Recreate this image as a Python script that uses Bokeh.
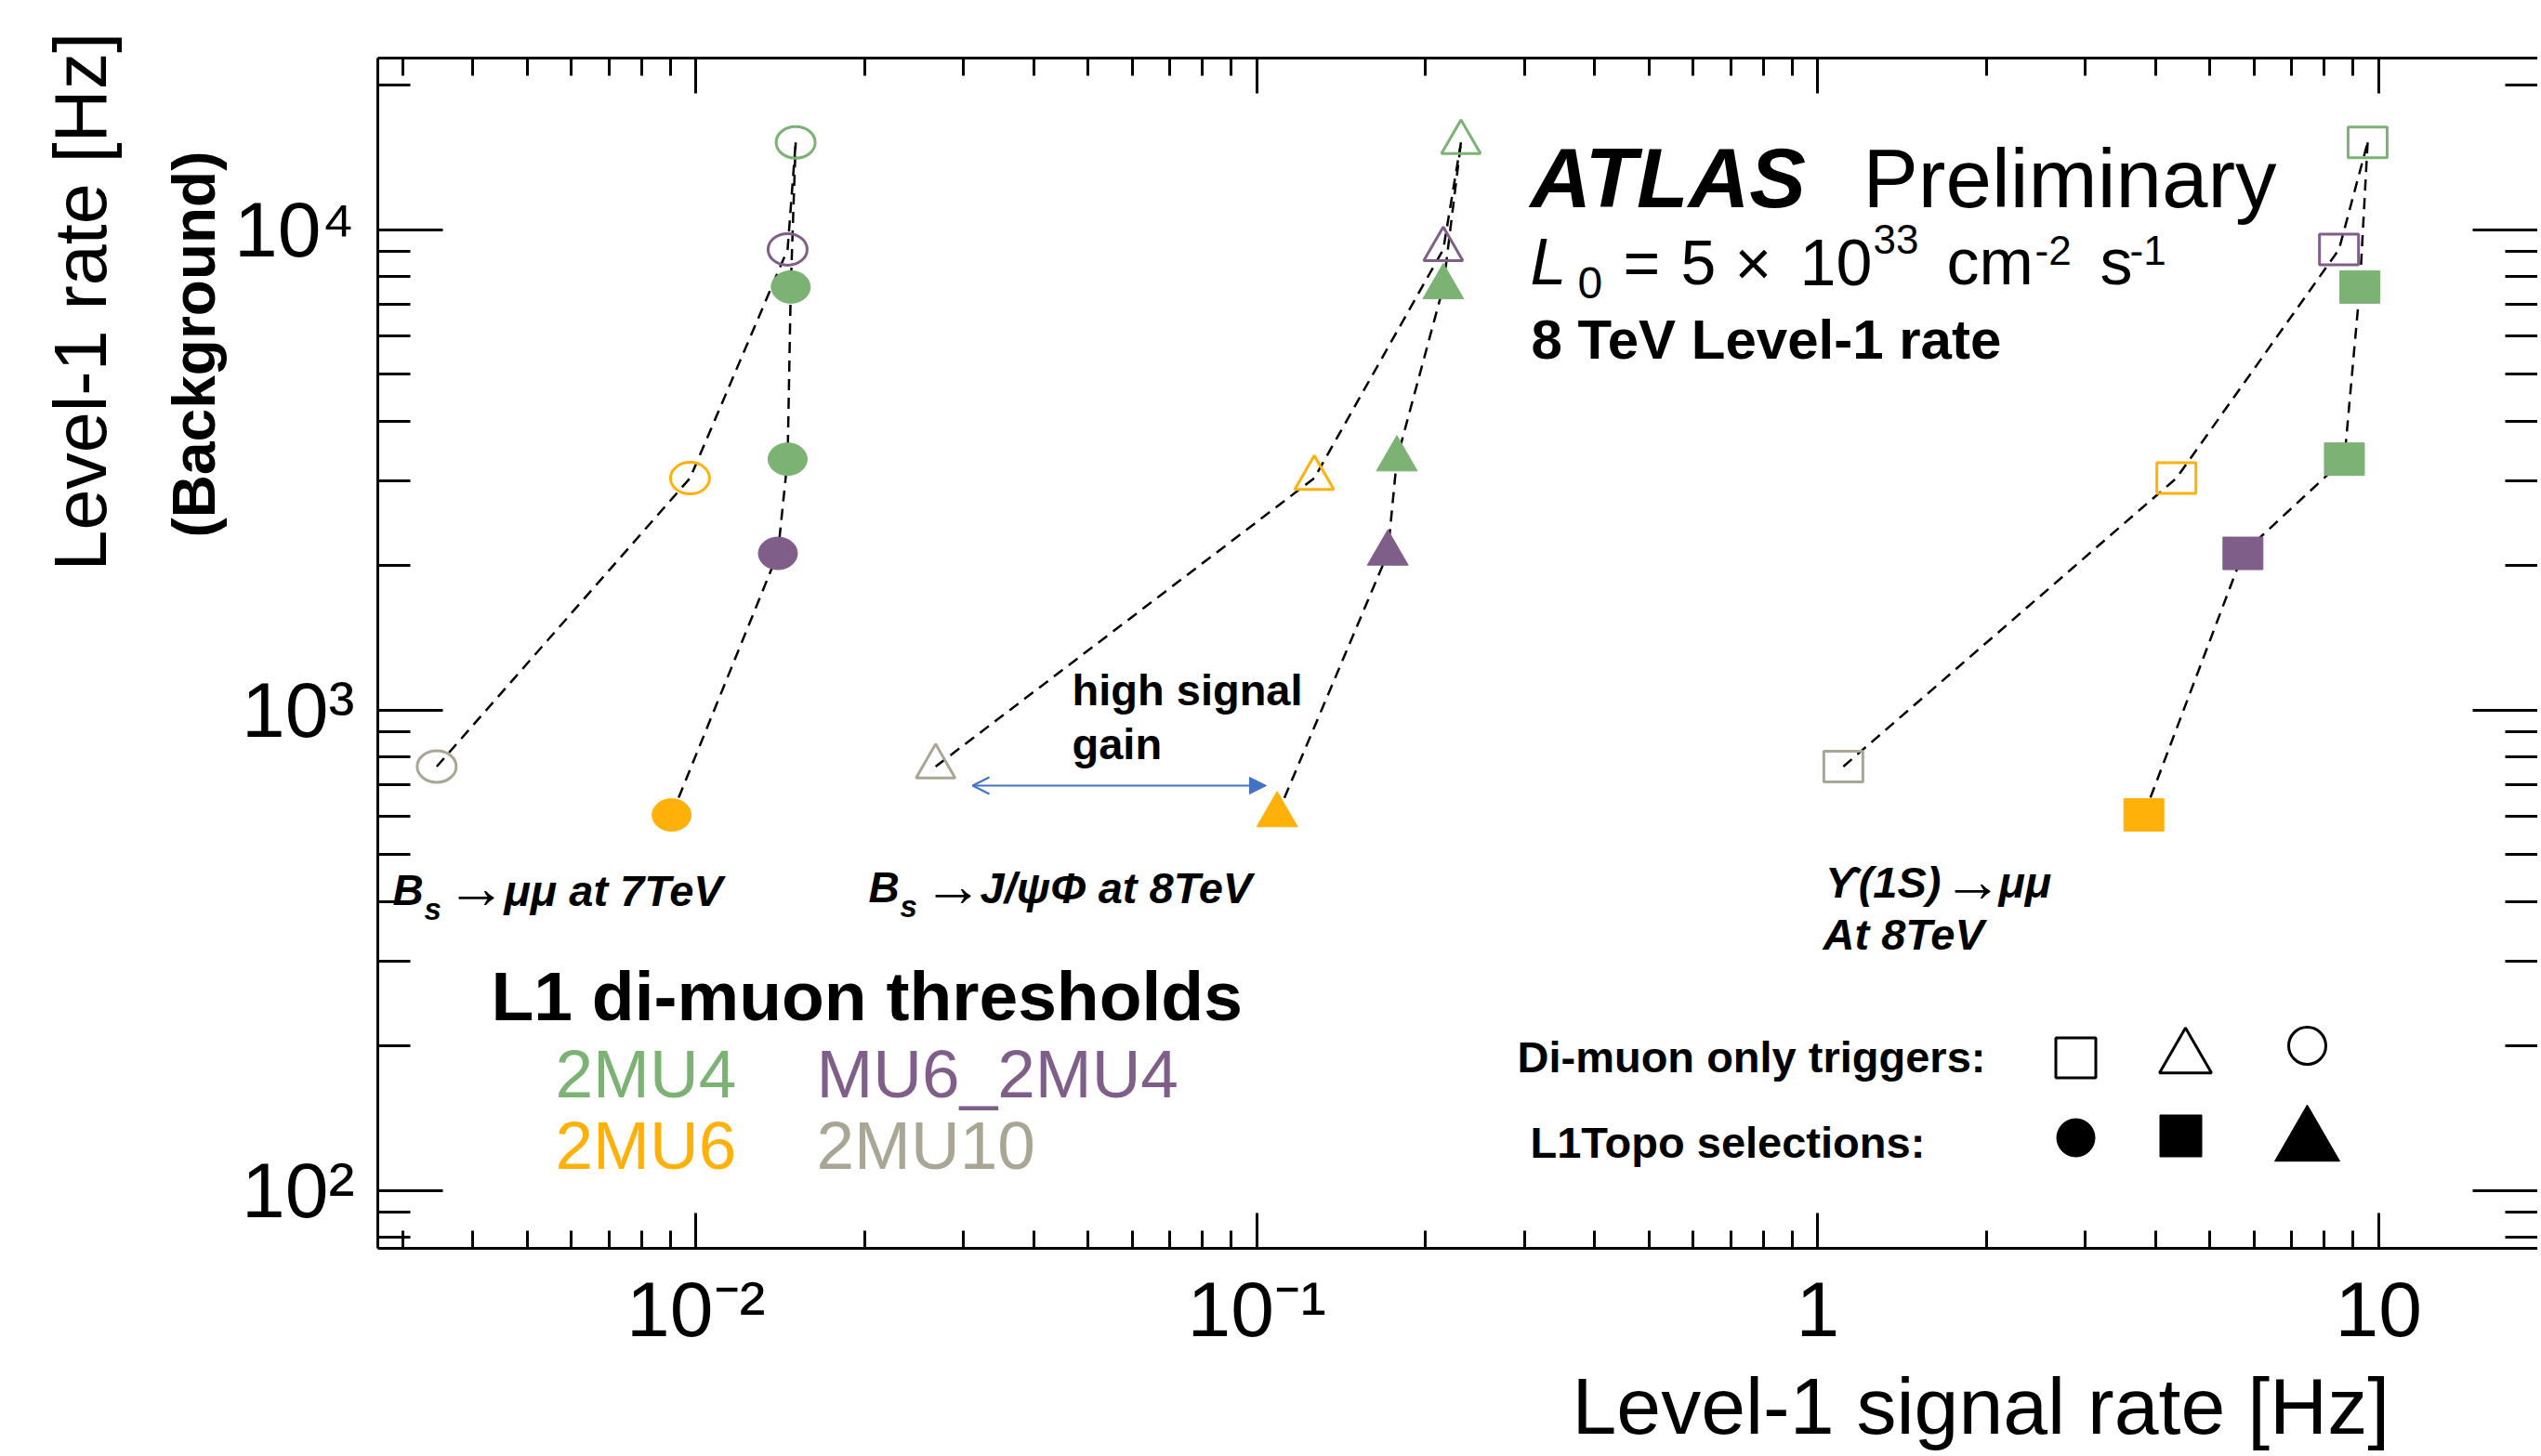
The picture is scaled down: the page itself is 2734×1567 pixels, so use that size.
import math
from bokeh.plotting import figure
from bokeh.models import (Range1d, LogAxis, FixedTicker, Label, Arrow, OpenHead,
                          NormalHead, ColumnDataSource, Title)
from bokeh.embed import file_html
from bokeh.resources import INLINE

# ---------------- data ----------------
dimuon_triggers = ["2MU10", "2MU6", "MU6_2MU4", "2MU4"]
dimuon_bkg_rate = [763, 3040, 9100, 15200]          # Level-1 background rate [Hz]
topo_triggers = ["2MU6", "MU6_2MU4", "2MU4", "2MU4"]
topo_bkg_rate = [605, 2120, 3330, 7600]

bsmumu_dimuon_sig = [0.00345, 0.00976, 0.01457, 0.01506]
bsmumu_topo_sig = [0.00905, 0.0140, 0.01457, 0.01476]
bsjpsiphi_dimuon_sig = [0.02675, 0.1266, 0.2150, 0.2312]
bsjpsiphi_topo_sig = [0.1087, 0.1712, 0.1777, 0.2150]
upsilon_dimuon_sig = [1.111, 4.36, 8.50, 9.56]
upsilon_topo_sig = [3.815, 5.73, 8.69, 9.26]

x_major_ticks = [0.01, 0.1, 1, 10]
x_tick_labels = ["10\u207b\u00b2", "10\u207b\u00b9", "1", "10"]
y_major_ticks = [100, 1000, 10000]
y_tick_labels = ["10\u00b2", "10\u00b3", "10\u2074"]

threshold_colors = {"2MU4": "#7cb274", "MU6_2MU4": "#7f5f8a",
                    "2MU6": "#ffb10a", "2MU10": "#aaa696"}

# ---------------- figure ----------------
X0, X1 = 0.002709, 19.22
Y0, Y1 = 75.8, 22770.0
W, H = 2730, 1564
CL, CT, FW, FH = 406, 62, 2324, 1281          # frame position in canvas px
FONT = "Liberation Sans"

p = figure(width=W, height=H, x_axis_type="log", y_axis_type="log",
           x_range=Range1d(X0, X1), y_range=Range1d(Y0, Y1),
           output_backend="svg", toolbar_location=None,
           min_border_left=CL, min_border_right=0, min_border_top=CT,
           min_border_bottom=H - CT - FH)
p.grid.visible = False
p.outline_line_color = None
p.background_fill_color = "white"
p.border_fill_color = "white"

x_minor = [m * 10.0 ** e for e in range(-3, 2) for m in range(2, 10)]
x_minor = [v for v in x_minor if X0 <= v <= X1]
y_minor = [m * 10.0 ** e for e in range(1, 5) for m in range(2, 10)]
y_minor = [v for v in y_minor if Y0 <= v <= Y1]


def style_axis(ax, ticks, minor, tick_len, labels, overrides, standoff):
    ax.ticker = FixedTicker(ticks=ticks, minor_ticks=minor)
    ax.major_tick_in, ax.major_tick_out = tick_len, 0
    ax.minor_tick_in, ax.minor_tick_out = tick_len // 2, 0
    ax.major_tick_line_width = 3
    ax.minor_tick_line_width = 3
    ax.axis_line_width = 3
    ax.major_tick_line_color = "black"
    ax.minor_tick_line_color = "black"
    ax.axis_line_color = "black"
    if labels:
        ax.major_label_overrides = dict(zip(ticks, overrides))
        ax.major_label_text_font = FONT
        ax.major_label_text_font_size = "84px"
        ax.major_label_text_color = "black"
        ax.major_label_standoff = standoff
    else:
        ax.major_label_text_font_size = "1px"
        ax.major_label_text_alpha = 0
        ax.major_label_standoff = 0


style_axis(p.xaxis[0], x_major_ticks, x_minor, 38, True, x_tick_labels, 18)
style_axis(p.yaxis[0], y_major_ticks, y_minor, 70, True, y_tick_labels, 25)
top = LogAxis()
style_axis(top, x_major_ticks, x_minor, 38, False, None, 0)
p.add_layout(top, "above")
right = LogAxis()
style_axis(right, y_major_ticks, y_minor, 70, False, None, 0)
right.axis_line_color = None
p.add_layout(right, "right")

# axis titles (placed in the side panels, off-centre like the reference)
p.add_layout(Title(text="Level-1 signal rate [Hz]", align="left", offset=1691 - CL,
                   text_font=FONT, text_font_size="86px", text_font_style="normal",
                   text_color="black", standoff=8), "below")
p.add_layout(Title(text="(Background)", align="left", offset=765,
                   text_font=FONT, text_font_size="64px", text_font_style="bold",
                   text_color="black", standoff=8), "left")
p.add_layout(Title(text="Level-1 rate [Hz]", align="left", offset=729,
                   text_font=FONT, text_font_size="79px", text_font_style="normal",
                   text_color="black", standoff=72), "left")

# ---------------- data lines and markers ----------------
groups = [
    ("circle", bsmumu_dimuon_sig, bsmumu_topo_sig),
    ("triangle", bsjpsiphi_dimuon_sig, bsjpsiphi_topo_sig),
    ("square", upsilon_dimuon_sig, upsilon_topo_sig),
]
DASH = "12 8"
for shape, dim_sig, topo_sig in groups:
    # di-muon-only chain
    p.line(dim_sig, dimuon_bkg_rate, line_color="black", line_width=2.5, line_dash=DASH)
    # L1Topo chain, joining the loosest di-muon trigger at the top
    p.line(topo_sig + [dim_sig[-1]], topo_bkg_rate + [dimuon_bkg_rate[-1]],
           line_color="black", line_width=2.5, line_dash=DASH)

    open_src = ColumnDataSource(dict(x=dim_sig, y=dimuon_bkg_rate,
                                     c=[threshold_colors[t] for t in dimuon_triggers]))
    fill_src = ColumnDataSource(dict(x=topo_sig, y=topo_bkg_rate,
                                     c=[threshold_colors[t] for t in topo_triggers]))
    if shape == "circle":
        p.ellipse("x", "y", width=42, height=34, width_units="screen", height_units="screen",
                  source=open_src, fill_color="white", fill_alpha=0, line_color="c", line_width=3)
        p.ellipse("x", "y", width=42, height=35, width_units="screen", height_units="screen",
                  source=fill_src, fill_color="c", line_color="c", line_width=1)
    elif shape == "square":
        p.rect("x", "y", width=42, height=33, width_units="screen", height_units="screen",
               source=open_src, fill_color="white", fill_alpha=0, line_color="c", line_width=3)
        p.rect("x", "y", width=43, height=35, width_units="screen", height_units="screen",
               source=fill_src, fill_color="c", line_color="c", line_width=1)
    else:
        p.scatter("x", "y", marker="triangle", size=42, source=open_src,
                  fill_color="white", fill_alpha=0, line_color="c", line_width=3)
        p.scatter("x", "y", marker="triangle", size=44, source=fill_src,
                  fill_color="c", line_color="c", line_width=1)


# ---------------- annotation helpers (canvas px -> data coords) ----------------
lx0, lx1 = math.log10(X0), math.log10(X1)
ly0, ly1 = math.log10(Y0), math.log10(Y1)


def ax_(px):
    return 10 ** (lx0 + (px - CL) / FW * (lx1 - lx0))


def ay_(py):
    return 10 ** (ly1 - (py - CT) / FH * (ly1 - ly0))


def lab(text, x, y, size, style="normal", color="black", mid=None):
    """x: left edge, y: text baseline (canvas px); placed by its vertical middle."""
    ym = mid if mid is not None else y - 0.35 * size
    p.add_layout(Label(x=ax_(x), y=ay_(ym), text=text, text_font=FONT,
                       text_font_size=f"{size}px", text_font_style=style,
                       text_color=color, text_align="left", text_baseline="middle"))


# ATLAS block
lab("ATLAS", 1646, 223, 91, style="bold italic")
lab("Preliminary", 2004, 223, 89)
lab("L", 1646, 306, 70, style="italic")
lab("0", 1697, 321, 48)
lab("=", 1746, 306, 68)
lab("5", 1808, 306, 68)
lab("\u00d7", 1866, 306, 68)
lab("10", 1936, 306, 70)
lab("33", 2015, 272, 44)
lab("cm", 2094, 306, 70)
lab("-2", 2189, 284, 44)
lab("s", 2259, 306, 70)
lab("-1", 2291, 284, 44)
lab("8 TeV Level-1 rate", 1647, 386, 60, style="bold")

# signal labels
lab("B", 422, 974, 46, style="bold italic")
lab("s", 456, 990, 33, style="bold italic")
lab("\u2192", 480, 0, 64, mid=954)
lab("\u03bc\u03bc at 7TeV", 542, 974, 47, style="bold italic")

lab("B", 934, 971, 46, style="bold italic")
lab("s", 968, 987, 33, style="bold italic")
lab("\u2192", 993, 0, 64, mid=952)
lab("J/\u03c8\u03a6 at 8TeV", 1054, 971, 47, style="bold italic")

lab("\u03d2(1S)", 1964, 965, 47, style="bold italic")
lab("\u2192", 2090, 0, 64, mid=947)
lab("\u03bc\u03bc", 2150, 965, 47, style="bold italic")
lab("At 8TeV", 1961, 1021, 47, style="bold italic")

lab("high signal", 1153, 758, 47, style="bold")
lab("gain", 1153, 816, 47, style="bold")
BLUE = "#4472c4"
p.add_layout(Arrow(start=OpenHead(size=18, line_color=BLUE, line_width=2),
                   end=NormalHead(size=18, fill_color=BLUE, line_color=BLUE),
                   x_start=ax_(1046), y_start=ay_(845), x_end=ax_(1362), y_end=ay_(845),
                   line_color=BLUE, line_width=2))

# threshold legend
lab("L1 di-muon thresholds", 528, 1098, 75, style="bold")
lab("2MU4", 597, 1181, 73, color=threshold_colors["2MU4"])
lab("MU6_2MU4", 878, 1181, 73, color=threshold_colors["MU6_2MU4"])
lab("2MU6", 597, 1258, 73, color=threshold_colors["2MU6"])
lab("2MU10", 878, 1258, 73, color=threshold_colors["2MU10"])

# marker-shape legend
lab("Di-muon only triggers:", 1632, 1153, 47, style="bold")
lab("L1Topo selections:", 1646, 1245, 47, style="bold")
key_open = dict(x=[ax_(2233), ax_(2351), ax_(2482)], y=[ay_(1138), ay_(1138), ay_(1125)],
                m=["square", "triangle", "circle"], s=[43, 56, 40])
key_fill = dict(x=[ax_(2233), ax_(2346), ax_(2482)], y=[ay_(1224), ay_(1222), ay_(1229)],
                m=["circle", "square", "triangle"], s=[41, 45, 70])
p.scatter("x", "y", marker="m", size="s", source=ColumnDataSource(key_open),
          fill_color=None, line_color="black", line_width=3)
p.scatter("x", "y", marker="m", size="s", source=ColumnDataSource(key_fill),
          fill_color="black", line_color="black", line_width=1)

open("out.html", "w").write(file_html(p, INLINE))
